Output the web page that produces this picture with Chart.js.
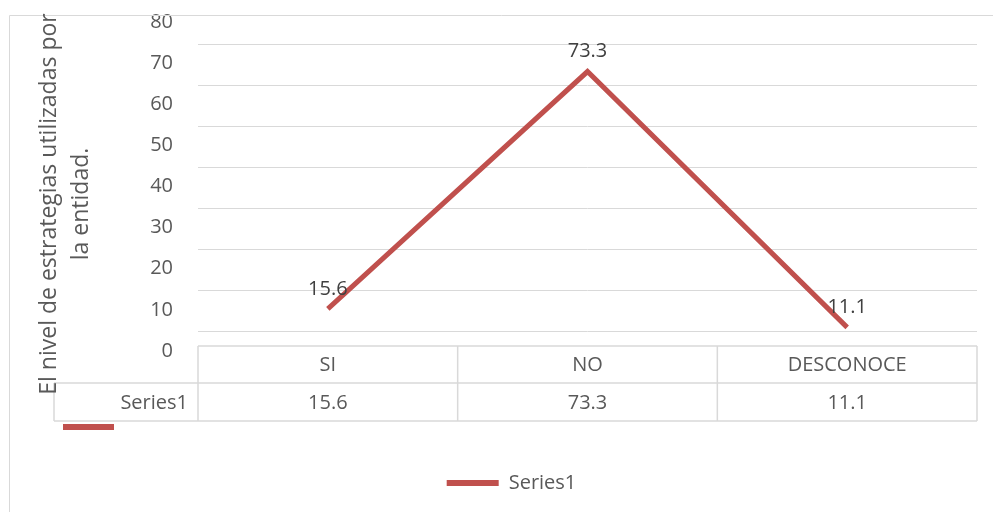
<!DOCTYPE html>
<html>
<head>
<meta charset="utf-8">
<script src="https://cdn.jsdelivr.net/npm/chart.js@4"></script>
<style>
  html, body { margin: 0; padding: 0; background: #ffffff; }
  #wrap { width: 993px; height: 512px; position: relative; }
</style>
</head>
<body>
<div id="wrap"><canvas id="chart" width="993" height="512"></canvas></div>
<script>
// Chart data
const categories = ['SI', 'NO', 'DESCONOCE'];
const seriesName = 'Series1';
const seriesValues = [15.6, 73.3, 11.1];
const yTitleLines = ['El nivel de estrategias utilizadas por', 'la entidad.'];
const yMin = 0;
const yMax = 80;
const yStep = 10;

const FONT = '"Open Sans", "DejaVu Sans", sans-serif';
const LINE_COLOR = '#C0504D';
const TEXT_COLOR = '#595959';
const LABEL_COLOR = '#404040';
const RULE_COLOR = '#D9D9D9';

// Outer frame, y-axis title, data table and its legend key
const decorations = {
  id: 'decorations',
  beforeDatasetsDraw(chart) {
    const ctx = chart.ctx;
    const area = chart.chartArea;
    const xs = chart.scales.x;
    ctx.save();

    // frame
    ctx.strokeStyle = RULE_COLOR;
    ctx.lineWidth = 1;
    ctx.beginPath();
    ctx.moveTo(9.5, 520);
    ctx.lineTo(9.5, 15.5);
    ctx.lineTo(1000, 15.5);
    ctx.stroke();

    // data table below the plot
    const rowTop = 346, rowMid = 383, rowBot = 421, keyLeft = 54;
    const colW = (area.right - area.left) / categories.length;
    ctx.fillStyle = '#ffffff';
    ctx.fillRect(area.left, rowTop, area.right - area.left, rowBot - rowTop);
    ctx.fillRect(keyLeft, rowMid, area.left - keyLeft, rowBot - rowMid);

    ctx.strokeStyle = RULE_COLOR;
    ctx.lineWidth = 1.5;
    ctx.beginPath();
    ctx.moveTo(area.left, rowTop); ctx.lineTo(area.right, rowTop);
    ctx.moveTo(keyLeft, rowMid); ctx.lineTo(area.right, rowMid);
    ctx.moveTo(keyLeft, rowBot); ctx.lineTo(area.right, rowBot);
    ctx.moveTo(keyLeft, rowMid); ctx.lineTo(keyLeft, rowBot);
    for (let i = 0; i <= categories.length; i++) {
      const x = area.left + i * colW;
      ctx.moveTo(x, rowTop); ctx.lineTo(x, rowBot);
    }
    ctx.stroke();

    ctx.font = '20px ' + FONT;
    ctx.fillStyle = TEXT_COLOR;
    ctx.textBaseline = 'middle';
    ctx.textAlign = 'center';
    categories.forEach((c, i) => {
      const cx = xs.getPixelForValue(i);
      ctx.fillText(c, cx, (rowTop + rowMid) / 2 + 1);
      ctx.fillText(String(seriesValues[i]), cx, (rowMid + rowBot) / 2 + 1);
    });
    ctx.textAlign = 'right';
    ctx.fillText(seriesName, area.left - 10, (rowMid + rowBot) / 2 + 1);

    // legend key of the table row
    ctx.fillStyle = chart.data.datasets[0].borderColor;
    ctx.fillRect(63, 424, 51, 6);

    // y-axis title, two rotated lines
    ctx.fillStyle = TEXT_COLOR;
    ctx.font = '23px ' + FONT;
    ctx.textAlign = 'center';
    ctx.textBaseline = 'alphabetic';
    const baselines = [56, 88];
    yTitleLines.forEach((t, i) => {
      ctx.save();
      ctx.translate(baselines[i], 204);
      ctx.rotate(-Math.PI / 2);
      ctx.fillText(t, 0, 0);
      ctx.restore();
    });
    ctx.restore();
  },
  afterDatasetsDraw(chart) {
    // value labels above the points
    const ctx = chart.ctx;
    const meta = chart.getDatasetMeta(0);
    ctx.save();
    ctx.font = '20px ' + FONT;
    ctx.fillStyle = LABEL_COLOR;
    ctx.textAlign = 'center';
    ctx.textBaseline = 'middle';
    meta.data.forEach((pt, i) => {
      ctx.fillText(String(seriesValues[i]), pt.x, pt.y - 20);
    });
    ctx.restore();
  }
};

new Chart(document.getElementById('chart'), {
  type: 'line',
  data: {
    labels: categories,
    datasets: [{
      label: seriesName,
      data: seriesValues,
      borderColor: LINE_COLOR,
      backgroundColor: LINE_COLOR,
      borderWidth: 5,
      pointRadius: 0,
      pointHoverRadius: 0,
      tension: 0,
      fill: false
    }]
  },
  options: {
    responsive: false,
    animation: false,
    devicePixelRatio: 1,
    layout: { padding: { top: 44, left: 46, right: 16, bottom: 9 } },
    plugins: {
      tooltip: { enabled: false },
      legend: {
        display: true,
        position: 'bottom',
        labels: {
          boxWidth: 52,
          boxHeight: 6,
          padding: 10,
          color: TEXT_COLOR,
          font: { family: FONT, size: 20 },
          generateLabels(chart) {
            const ds = chart.data.datasets[0];
            return [{
              text: ds.label,
              fillStyle: ds.borderColor,
              strokeStyle: ds.borderColor,
              lineWidth: 0,
              hidden: false,
              datasetIndex: 0,
              fontColor: TEXT_COLOR
            }];
          }
        }
      }
    },
    scales: {
      x: {
        type: 'category',
        offset: true,
        grid: { display: false },
        border: { display: false },
        ticks: { display: false },
        afterFit(scale) { scale.height = 90; }
      },
      y: {
        min: yMin,
        max: yMax,
        grid: { color: RULE_COLOR, lineWidth: 1, drawTicks: false },
        border: { display: false },
        ticks: {
          stepSize: yStep,
          padding: 25,
          labelOffset: -22,
          color: TEXT_COLOR,
          font: { family: FONT, size: 20 }
        },
        afterFit(scale) { scale.width = 152; }
      }
    }
  },
  plugins: [decorations]
});
</script>
</body>
</html>
